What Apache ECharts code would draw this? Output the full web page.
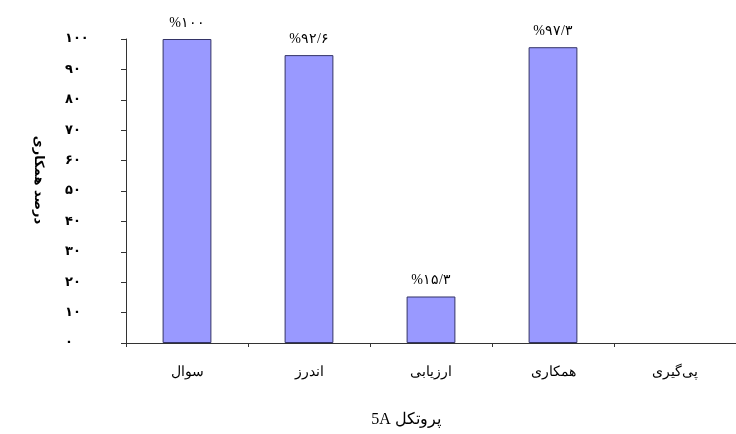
<!DOCTYPE html>
<html>
<head>
<meta charset="utf-8">
<script src="https://cdn.jsdelivr.net/npm/echarts@6/dist/echarts.min.js"></script>
<style>html,body{margin:0;padding:0;background:#fff}#c{width:736px;height:434px}</style>
</head>
<body>
<div id="c"></div>
<script>
var categories = ['سوال', 'اندرز', 'ارزیابی', 'همکاری', 'پی‌گیری'];
var values = [100, 94.7, 15.3, 97.3, null];
var valueLabels = ['%۱۰۰', '%۹۲/۶', '%۱۵/۳', '%۹۷/۳', ''];
var yTickLabels = ['۰', '۱۰', '۲۰', '۳۰', '۴۰', '۵۰', '۶۰', '۷۰', '۸۰', '۹۰', '۱۰۰'];
var xAxisTitle = 'پروتکل 5A';
var yAxisTitle = 'درصد همکاری';

var RLE = '\u202B', PDF = '\u202C';
var serif = '"Liberation Serif", "DejaVu Serif", serif';
var chart = echarts.init(document.getElementById('c'), null, {renderer: 'canvas'});
chart.setOption({
  animation: false,
  backgroundColor: '#fff',
  grid: {left: 126, top: 39, width: 616, bottom: 91, containLabel: false},
  xAxis: {
    type: 'category',
    data: categories,
    name: RLE + xAxisTitle + PDF,
    nameLocation: 'middle',
    nameGap: 69,
    nameTextStyle: {fontFamily: serif, fontSize: 16, color: '#000', padding: [0, 50, 0, 0]},
    axisLine: {lineStyle: {color: '#333', width: 1}},
    axisTick: {show: true, alignWithLabel: false, length: 4, lineStyle: {color: '#333'}},
    axisLabel: {fontFamily: serif, fontSize: 14, color: '#000', margin: 22, interval: 0}
  },
  yAxis: {
    type: 'value',
    min: 0, max: 100, interval: 10,
    name: yAxisTitle,
    nameLocation: 'middle',
    nameRotate: -90,
    nameGap: 81,
    nameTextStyle: {fontFamily: '"DejaVu Sans", sans-serif', fontSize: 13, fontWeight: 'bold', color: '#000', padding: [0, 22, 0, 0]},
    axisLine: {show: true, lineStyle: {color: '#333', width: 1}},
    axisTick: {show: true, length: 5, lineStyle: {color: '#333'}},
    splitLine: {show: false},
    axisLabel: {
      align: 'left', margin: 61,
      fontFamily: '"DejaVu Sans", sans-serif', fontSize: 13, fontWeight: 'bold', color: '#000',
      formatter: function (v) { return yTickLabels[Math.round(v / 10)]; }
    }
  },
  series: [{
    type: 'bar',
    data: values,
    barWidth: '40%',
    itemStyle: {color: '#9999FF', borderColor: '#333366', borderWidth: 1},
    label: {
      show: true, position: 'top', distance: 9,
      fontFamily: serif, fontSize: 14, color: '#000',
      formatter: function (p) { return valueLabels[p.dataIndex]; }
    }
  }]
});
</script>
</body>
</html>
